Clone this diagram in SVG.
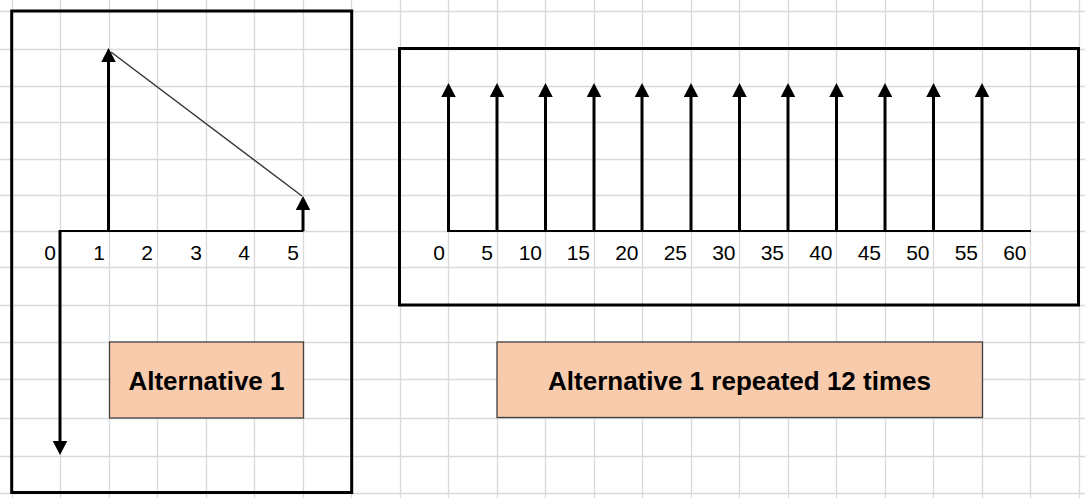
<svg xmlns="http://www.w3.org/2000/svg" width="1085" height="498" viewBox="0 0 1085 498">
<style>
.grid line{stroke:#d9d9d9;stroke-width:1.3}
.frame{fill:none;stroke:#000;stroke-width:3}
.axis{stroke:#000;stroke-width:2;fill:none}
.arr{stroke:#000;stroke-width:3;fill:none;marker-end:url(#ah)}
.diag{stroke:#333;stroke-width:1.4;fill:none}
.lbl{fill:#F8CBAD;stroke:#404040;stroke-width:1.3}
.num{font-family:"Liberation Sans",Arial,sans-serif;font-size:21px;fill:#000;text-anchor:end}
.title{font-family:"Liberation Sans",Arial,sans-serif;font-size:26px;font-weight:bold;fill:#000;text-anchor:middle}
</style>
<defs>
<marker id="ah" viewBox="0 0 14 14" refX="4" refY="7" markerWidth="14" markerHeight="14.5" markerUnits="userSpaceOnUse" orient="auto" preserveAspectRatio="none">
<path d="M0,0 L14,7 L0,14 z" fill="#000"/>
</marker>
</defs>
<rect width="1085" height="498" fill="#fff"/>
<g class="grid" id="grid">
<line x1="12.5" y1="0" x2="12.5" y2="498"/>
<line x1="60.5" y1="0" x2="60.5" y2="498"/>
<line x1="109.5" y1="0" x2="109.5" y2="498"/>
<line x1="157.5" y1="0" x2="157.5" y2="498"/>
<line x1="206.5" y1="0" x2="206.5" y2="498"/>
<line x1="254.5" y1="0" x2="254.5" y2="498"/>
<line x1="303.5" y1="0" x2="303.5" y2="498"/>
<line x1="351.5" y1="0" x2="351.5" y2="498"/>
<line x1="400.5" y1="0" x2="400.5" y2="498"/>
<line x1="448.5" y1="0" x2="448.5" y2="498"/>
<line x1="497.5" y1="0" x2="497.5" y2="498"/>
<line x1="545.5" y1="0" x2="545.5" y2="498"/>
<line x1="594.5" y1="0" x2="594.5" y2="498"/>
<line x1="642.5" y1="0" x2="642.5" y2="498"/>
<line x1="691.5" y1="0" x2="691.5" y2="498"/>
<line x1="739.5" y1="0" x2="739.5" y2="498"/>
<line x1="788.5" y1="0" x2="788.5" y2="498"/>
<line x1="836.5" y1="0" x2="836.5" y2="498"/>
<line x1="885.5" y1="0" x2="885.5" y2="498"/>
<line x1="933.5" y1="0" x2="933.5" y2="498"/>
<line x1="982.5" y1="0" x2="982.5" y2="498"/>
<line x1="1030.5" y1="0" x2="1030.5" y2="498"/>
<line x1="1079.5" y1="0" x2="1079.5" y2="498"/>
<line x1="0" y1="11.5" x2="1085" y2="11.5"/>
<line x1="0" y1="49.5" x2="1085" y2="49.5"/>
<line x1="0" y1="86.5" x2="1085" y2="86.5"/>
<line x1="0" y1="122.5" x2="1085" y2="122.5"/>
<line x1="0" y1="159.5" x2="1085" y2="159.5"/>
<line x1="0" y1="195.5" x2="1085" y2="195.5"/>
<line x1="0" y1="231.5" x2="1085" y2="231.5"/>
<line x1="0" y1="267.5" x2="1085" y2="267.5"/>
<line x1="0" y1="305.5" x2="1085" y2="305.5"/>
<line x1="0" y1="342.5" x2="1085" y2="342.5"/>
<line x1="0" y1="379.5" x2="1085" y2="379.5"/>
<line x1="0" y1="418.5" x2="1085" y2="418.5"/>
<line x1="0" y1="456.5" x2="1085" y2="456.5"/>
<line x1="0" y1="493.5" x2="1085" y2="493.5"/>
</g>
<g id="alt1-panel">
<rect class="frame" x="11.7" y="11" width="340" height="481.5"/>
<g class="num">
<text x="56" y="260">0</text>
<text x="105" y="260">1</text>
<text x="153" y="260">2</text>
<text x="202" y="260">3</text>
<text x="250" y="260">4</text>
<text x="299" y="260">5</text>
</g>
</g>
<g id="alt1-label">
<rect class="lbl" x="109.5" y="342" width="194" height="76"/>
<text class="title" x="206.5" y="390">Alternative 1</text>
</g>
<g id="repeat-panel">
<rect class="frame" x="399.5" y="48.5" width="679" height="256.5"/>
<g class="num">
<text x="445" y="260">0</text>
<text x="493" y="260">5</text>
<text x="542" y="260">10</text>
<text x="590" y="260">15</text>
<text x="638.5" y="260">20</text>
<text x="687" y="260">25</text>
<text x="735.5" y="260">30</text>
<text x="784" y="260">35</text>
<text x="832.5" y="260">40</text>
<text x="881" y="260">45</text>
<text x="929.5" y="260">50</text>
<text x="978" y="260">55</text>
<text x="1026.5" y="260">60</text>
</g>
</g>
<g id="repeat-label">
<rect class="lbl" x="497" y="342" width="485.5" height="75.5"/>
<text class="title" x="739.5" y="390">Alternative 1 repeated 12 times</text>
</g>
<g id="connectors">
<path class="axis" d="M60,231 H303.5"/>
<line class="arr" x1="60" y1="230" x2="60" y2="445"/>
<line class="arr" x1="108.5" y1="231" x2="108.5" y2="58"/>
<line class="arr" x1="303" y1="231" x2="303" y2="206"/>
<line class="diag" x1="111" y1="52" x2="302" y2="196"/>
<path class="axis" d="M448,231 H1031"/>
<line class="arr" x1="448.5" y1="232" x2="448.5" y2="93"/>
<line class="arr" x1="497" y1="232" x2="497" y2="93"/>
<line class="arr" x1="545.5" y1="232" x2="545.5" y2="93"/>
<line class="arr" x1="594" y1="232" x2="594" y2="93"/>
<line class="arr" x1="642" y1="232" x2="642" y2="93"/>
<line class="arr" x1="691" y1="232" x2="691" y2="93"/>
<line class="arr" x1="739.5" y1="232" x2="739.5" y2="93"/>
<line class="arr" x1="788" y1="232" x2="788" y2="93"/>
<line class="arr" x1="836.5" y1="232" x2="836.5" y2="93"/>
<line class="arr" x1="885" y1="232" x2="885" y2="93"/>
<line class="arr" x1="933.5" y1="232" x2="933.5" y2="93"/>
<line class="arr" x1="982" y1="232" x2="982" y2="93"/>
</g>
</svg>
